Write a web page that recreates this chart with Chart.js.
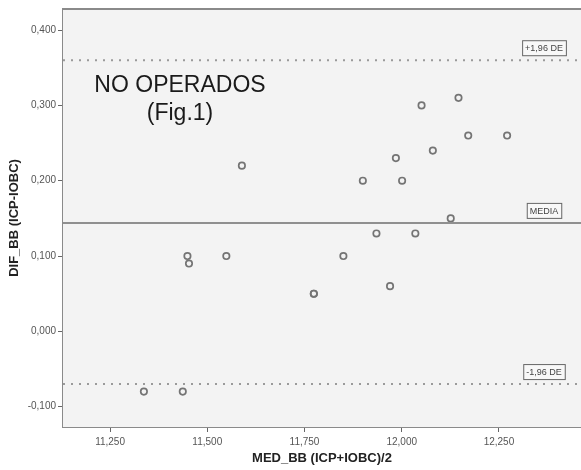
<!DOCTYPE html>
<html>
<head>
<meta charset="utf-8">
<script src="https://cdn.jsdelivr.net/npm/chart.js@4"></script>
<style>
    html, body { margin: 0; padding: 0; background: #fff; }
    #wrap { width: 581px; height: 470px; position: relative; }
</style>
</head>
<body>
<div id="wrap"><canvas id="grafico"></canvas></div>
<script>
// Datos (Bland-Altman)
const medBB = [11.589, 12.051, 12.146, 12.171, 12.271, 12.080, 11.985, 11.900, 12.001, 12.126, 11.935,
               12.035, 11.850, 11.774, 11.774, 11.970, 11.449, 11.453, 11.549, 11.337, 11.437];
const difBB = [0.22, 0.30, 0.31, 0.26, 0.26, 0.24, 0.23, 0.20, 0.20, 0.15, 0.13,
               0.13, 0.10, 0.05, 0.05, 0.06, 0.10, 0.09, 0.10, -0.08, -0.08];

const lineasRef = [0.360, 0.144, -0.070];
const etiquetasRef = ["+1,96 DE", "MEDIA", "-1,96 DE"];

const xTicks = [11.25, 11.5, 11.75, 12.0, 12.25];
const yTicks = [-0.1, 0.0, 0.1, 0.2, 0.3, 0.4];

const xMin = 11.129, xMax = 12.461;
const yMin = -0.127, yMax = 0.428;

const puntos = medBB.map((x, i) => ({ x: x, y: difBB[i] }));

function fmt(v) {
    return v.toFixed(3).replace(".", ",");
}

// fondo gris + borde superior + textos
const fondoPlugin = {
    id: "fondo",
    beforeDatasetsDraw(chart) {
        const { ctx, chartArea: a } = chart;
        ctx.save();
        ctx.fillStyle = "#f3f3f3";
        ctx.fillRect(a.left, a.top, a.right - a.left, a.bottom - a.top);
        ctx.strokeStyle = "#8a8a8a";
        ctx.lineWidth = 2;
        ctx.beginPath();
        ctx.moveTo(a.left, a.top);
        ctx.lineTo(a.right, a.top);
        ctx.stroke();
        ctx.restore();
    },
    afterDatasetsDraw(chart) {
        const { ctx, chartArea: a, scales } = chart;
        ctx.save();
        // cajas de etiquetas
        ctx.font = "9px 'Liberation Sans', Arial, sans-serif";
        ctx.textBaseline = "middle";
        ctx.textAlign = "center";
        lineasRef.forEach((v, i) => {
            const py = scales.y.getPixelForValue(v);
            const txt = etiquetasRef[i];
            const w = ctx.measureText(txt).width + 6;
            const h = 15;
            const cx = a.right - 37;
            const by = py - 5 - h;
            ctx.fillStyle = "#f8f8f8";
            ctx.fillRect(cx - w / 2, by, w, h);
            ctx.strokeStyle = "#666";
            ctx.lineWidth = 1;
            ctx.strokeRect(cx - w / 2 + 0.5, by + 0.5, w, h);
            ctx.fillStyle = "#444";
            ctx.fillText(txt, cx, by + h / 2 + 1);
        });
        // titulo interno
        ctx.fillStyle = "#1a1a1a";
        ctx.textBaseline = "alphabetic";
        ctx.font = "23px 'Liberation Sans', Arial, sans-serif";
        ctx.fillText("NO OPERADOS", 180, 92);
        ctx.fillText("(Fig.1)", 180, 120);
        ctx.restore();
    }
};

const ctx = document.getElementById("grafico").getContext("2d");

const refDatasets = lineasRef.map((v, i) => ({
    type: "line",
    data: [{ x: xMin, y: v }, { x: xMax, y: v }],
    borderColor: i === 1 ? "#8f8f8f" : "#9a9a9a",
    borderWidth: 2,
    borderDash: i === 1 ? [] : [2, 6],
    pointRadius: 0,
    fill: false
}));

new Chart(ctx, {
    type: "scatter",
    data: {
        datasets: [
            ...refDatasets,
            {
                data: puntos,
                pointRadius: 3.2,
                pointBorderWidth: 1.7,
                pointBorderColor: "#747474",
                pointBackgroundColor: "rgba(0,0,0,0)"
            }
        ]
    },
    plugins: [fondoPlugin],
    options: {
        responsive: true,
        maintainAspectRatio: false,
        animation: false,
        layout: { autoPadding: false, padding: { top: 9, right: 0, left: 0, bottom: 0 } },
        plugins: {
            legend: { display: false },
            tooltip: { enabled: false }
        },
        scales: {
            x: {
                type: "linear",
                min: xMin,
                max: xMax,
                afterBuildTicks: (scale) => { scale.ticks = xTicks.map(v => ({ value: v })); },
                afterFit: (scale) => { scale.height = 43; },
                grid: { display: true, drawOnChartArea: false, drawTicks: true, tickLength: 5, color: "#666" },
                border: { display: true, color: "#8a8a8a", width: 2 },
                ticks: {
                    padding: 4,
                    color: "#555",
                    font: { size: 10, family: "'Liberation Sans', Arial, sans-serif" },
                    callback: (v) => fmt(v)
                },
                title: {
                    display: true,
                    text: "MED_BB (ICP+IOBC)/2",
                    color: "#222",
                    padding: { top: 1 },
                    font: { size: 13, weight: "bold", family: "'Liberation Sans', Arial, sans-serif" }
                }
            },
            y: {
                type: "linear",
                min: yMin,
                max: yMax,
                afterBuildTicks: (scale) => { scale.ticks = yTicks.map(v => ({ value: v })); },
                afterFit: (scale) => { scale.width = 63; },
                grid: { display: true, drawOnChartArea: false, drawTicks: true, tickLength: 5, color: "#666" },
                border: { display: true, color: "#8a8a8a", width: 2 },
                ticks: {
                    padding: 2,
                    color: "#555",
                    font: { size: 10, family: "'Liberation Sans', Arial, sans-serif" },
                    callback: (v) => fmt(v)
                },
                title: {
                    display: true,
                    text: "DIF_BB (ICP-IOBC)",
                    color: "#222",
                    padding: { top: 7, bottom: 0 },
                    font: { size: 13, weight: "bold", family: "'Liberation Sans', Arial, sans-serif" }
                }
            }
        }
    }
});
</script>
</body>
</html>
